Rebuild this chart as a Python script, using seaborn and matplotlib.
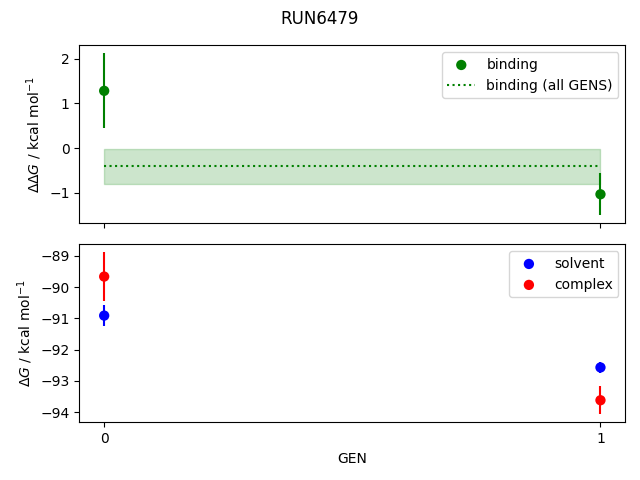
import numpy as np
import pandas as pd
import matplotlib
matplotlib.use("Agg")
import matplotlib.pyplot as plt
import seaborn as sns

# values
gens = [0, 1]
binding = [1.28, -1.03]
binding_err = [0.84, 0.47]
binding_all = -0.40
binding_all_err = 0.39
solvent = [-90.91, -92.57]
solvent_err = [0.33, 0.18]
complex_ = [-89.66, -93.62]
complex_err = [0.78, 0.45]

df = pd.DataFrame({
    "GEN": gens,
    "binding": binding, "binding_err": binding_err,
    "solvent": solvent, "solvent_err": solvent_err,
    "complex": complex_, "complex_err": complex_err,
})

fig, (ax1, ax2) = plt.subplots(2, 1, figsize=(6.4, 4.8), dpi=100, sharex=True)

# haut : binding
ax1.errorbar(df["GEN"], df["binding"], yerr=df["binding_err"], fmt="none", ecolor="green")
sns.scatterplot(data=df, x="GEN", y="binding", color="green", s=55, edgecolor="none",
                label="binding", ax=ax1, zorder=3)
ax1.plot([gens[0], gens[-1]], [binding_all, binding_all], ":", color="green",
         label="binding (all GENS)")
ax1.fill_between([gens[0], gens[-1]], binding_all - binding_all_err,
                 binding_all + binding_all_err, color="green", alpha=0.2)
ax1.set_ylabel(r"$\Delta\Delta G$ / kcal mol$^{-1}$")
ax1.set_xlabel("")
ax1.legend(loc="upper right")

# bas : solvent / complex
ax2.errorbar(df["GEN"], df["solvent"], yerr=df["solvent_err"], fmt="none", ecolor="blue")
ax2.errorbar(df["GEN"], df["complex"], yerr=df["complex_err"], fmt="none", ecolor="red")
sns.scatterplot(data=df, x="GEN", y="solvent", color="blue", s=55, edgecolor="none",
                label="solvent", ax=ax2, zorder=3)
sns.scatterplot(data=df, x="GEN", y="complex", color="red", s=55, edgecolor="none",
                label="complex", ax=ax2, zorder=3)
ax2.set_ylabel(r"$\Delta G$ / kcal mol$^{-1}$")
ax2.set_xlabel("GEN")
ax2.set_xticks(gens)
ax2.legend(loc="upper right")

fig.suptitle("RUN6479")
fig.subplots_adjust(left=0.124, right=0.977, top=0.906, bottom=0.120, hspace=0.116)
fig.savefig("out.png", dpi=100)
